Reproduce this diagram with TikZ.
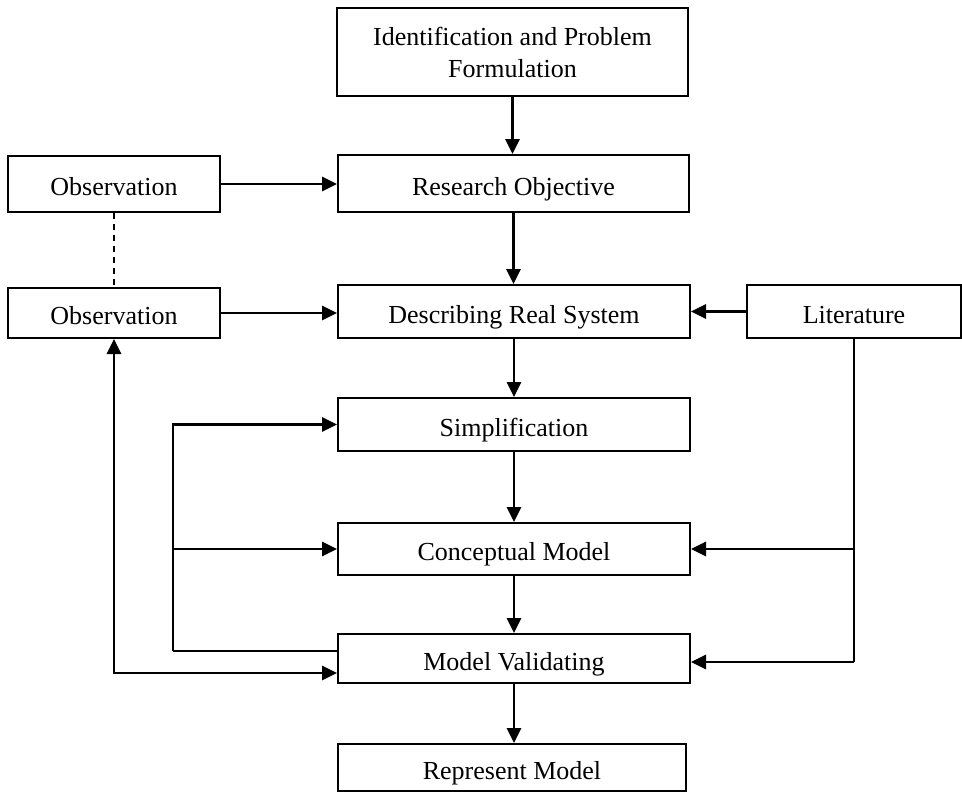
\documentclass[tikz,border=0pt]{standalone}
\usepackage{fontspec}
\setmainfont{Liberation Serif}
\usetikzlibrary{arrows.meta}
\begin{document}
\begin{tikzpicture}[x=1pt,y=-1pt,
  box/.style={draw,line width=2pt,rectangle,inner sep=0pt,align=center,
    font=\fontsize{26}{32}\selectfont},
  one/.style={text height=23pt,text depth=0pt},
  arr/.style={line width=2.8pt,-{Triangle[length=15pt,width=14pt]}},
  arrboth/.style={line width=2.8pt,{Triangle[length=15pt,width=14pt]}-{Triangle[length=15pt,width=14pt]}},
  plain/.style={line width=2.6pt}]
\useasboundingbox (0,0) rectangle (962,792);
\node[box,minimum width=351pt,minimum height=88pt] (ident) at (512.5,52) {Identification and Problem\\Formulation};
\node[box,one,minimum width=351pt,minimum height=57pt] (ro) at (513.5,183.5) {Research Objective};
\node[box,one,minimum width=212pt,minimum height=56pt] (obs1) at (114,184) {Observation};
\node[box,one,minimum width=212pt,minimum height=50pt] (obs2) at (114,313) {Observation};
\node[box,one,minimum width=352pt,minimum height=53pt] (drs) at (514,311.5) {Describing Real System};
\node[box,one,minimum width=214pt,minimum height=53pt] (lit) at (854,311.5) {Literature};
\node[box,one,minimum width=352pt,minimum height=53pt] (simp) at (514,424.5) {Simplification};
\node[box,one,minimum width=352pt,minimum height=52pt] (cm) at (514,549) {Conceptual Model};
\node[box,one,minimum width=352pt,minimum height=49pt] (mv) at (514,658.5) {Model Validating};
\node[box,one,minimum width=348pt,minimum height=47pt] (rm) at (512,767.5) {Represent Model};
% main chain
\draw[arr] (ident.south) -- (ident.south |- ro.north);
\draw[arr] (ro.south) -- (ro.south |- drs.north);
\draw[arr] (drs.south) -- (simp.north);
\draw[arr] (simp.south) -- (cm.north);
\draw[arr] (cm.south) -- (mv.north);
\draw[arr] (mv.south) -- (mv.south |- rm.north);
% observations
\draw[arr] (obs1.east) -- (obs1.east -| ro.west);
\draw[arr] (obs2.east) -- (obs2.east -| drs.west);
\draw[line width=1.6pt,dash pattern=on 6pt off 5pt] (obs1.south) -- (obs2.north);
% literature
\draw[arr] (lit.west) -- (lit.west -| drs.east);
\coordinate (rb) at (854,662);
\draw[plain] (lit.south) -- (rb);
\draw[arr] (rb) -- (rb -| mv.east);
\draw[arr] (lit.south |- cm.east) -- (cm.east);
% left feedback loop
\coordinate (lb) at (173,651);
\draw[plain] (lb -| mv.west) -- (lb);
\draw[arr] (lb) |- (simp.west);
\draw[arr] (lb |- cm.west) -- (cm.west);
% outer loop to observation
\coordinate (ob) at (114,673);
\draw[arrboth] (obs2.south) -- (ob) -- (ob -| mv.west);
\end{tikzpicture}
\end{document}
